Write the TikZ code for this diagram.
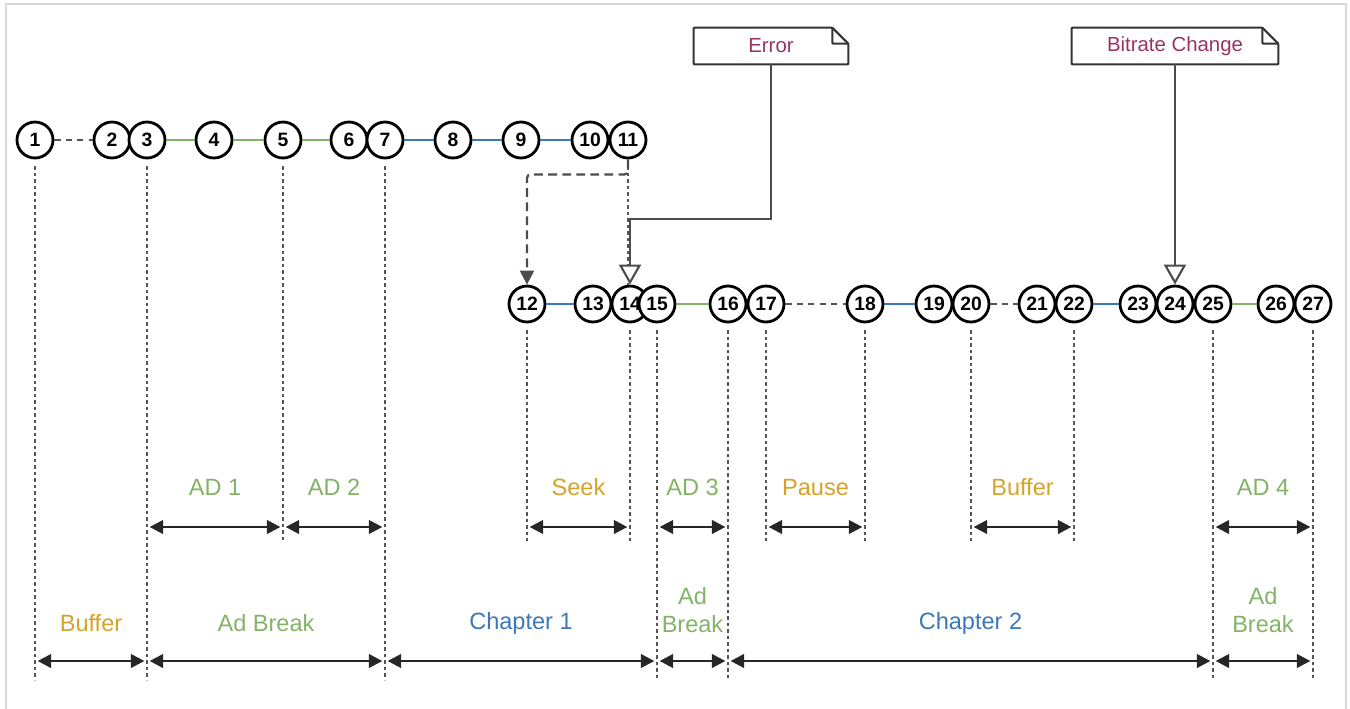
\documentclass[tikz,border=0pt]{standalone}
\usepackage{fontspec}
\setmainfont{Liberation Sans}
\usetikzlibrary{arrows.meta}
\definecolor{adgreen}{HTML}{82B366}
\definecolor{chapblue}{HTML}{3C78B8}
\definecolor{waitgold}{HTML}{D6A329}
\definecolor{notepurple}{HTML}{993366}
\definecolor{guidegrey}{HTML}{555555}
\tikzset{
	evt/.style={circle, draw=black, line width=1.6pt, fill=white, minimum size=0.72cm, inner sep=0pt, font=\fontsize{11}{12}\selectfont\bfseries},
	greenlink/.style={draw=adgreen, line width=1.6pt},
	bluelink/.style={draw=chapblue, line width=1.6pt},
	gaplink/.style={draw=guidegrey, line width=1.4pt, dash pattern=on 3.5pt off 3pt},
	guide/.style={draw=guidegrey, line width=1.4pt, dash pattern=on 1.8pt off 1.9pt, shorten <=4pt},
	span/.style={{Triangle[length=0.27cm,width=0.27cm]}-{Triangle[length=0.27cm,width=0.27cm]}, draw=black!85, line width=1.4pt, shorten <=1.5pt, shorten >=1.5pt},
	spanlbl/.style={font=\fontsize{13.4}{16.4}\selectfont, align=center, inner sep=0pt},
	note/.style={minimum height=0.72cm, inner sep=0pt, text=notepurple, font=\fontsize{11.6}{13}\selectfont},
	noteframe/.style={draw=black!80, line width=1.2pt, rounded corners=0.5pt},
	notewire/.style={draw=black!70, line width=1.2pt, -{Triangle[fill=white,length=0.4cm,width=0.44cm]}},
	seekwire/.style={draw=black!70, line width=1.3pt, dash pattern=on 5pt off 3pt, rounded corners=2pt, -{Triangle[length=0.28cm,width=0.28cm]}}
}

\begin{document}
\begin{tikzpicture}[x=0.02cm, y=-0.02cm]
	%%%%% START %%%%%
	\useasboundingbox (0,0) rectangle (1350,708);
	\draw[draw=black!15, line width=1.6pt] (6,712) -- (6,4) -- (1346,4) -- (1346,712);
	
	% first row
	\node[evt] (n1) at (35,140) {1};
	\node[evt] (n2) at (112,140) {2};
	\node[evt] (n3) at (147,140) {3};
	\node[evt] (n4) at (214,140) {4};
	\node[evt] (n5) at (283,140) {5};
	\node[evt] (n6) at (349,140) {6};
	\node[evt] (n7) at (385,140) {7};
	\node[evt] (n8) at (453,140) {8};
	\node[evt] (n9) at (521,140) {9};
	\node[evt] (n10) at (590,140) {10};
	\node[evt] (n11) at (628,140) {11};
	
	\draw[gaplink] (n1) -- (n2);
	\draw[greenlink] (n3) -- (n4);
	\draw[greenlink] (n4) -- (n5);
	\draw[greenlink] (n5) -- (n6);
	\draw[bluelink] (n7) -- (n8);
	\draw[bluelink] (n8) -- (n9);
	\draw[bluelink] (n9) -- (n10);
	
	% second row
	\node[evt] (n12) at (527,304) {12};
	\node[evt] (n13) at (593,304) {13};
	\node[evt] (n14) at (630,304) {14};
	\node[evt] (n15) at (657,304) {15};
	\node[evt] (n16) at (728,304) {16};
	\node[evt] (n17) at (766,304) {17};
	\node[evt] (n18) at (865,304) {18};
	\node[evt] (n19) at (934,304) {19};
	\node[evt] (n20) at (971,304) {20};
	\node[evt] (n21) at (1037,304) {21};
	\node[evt] (n22) at (1074,304) {22};
	\node[evt] (n23) at (1138,304) {23};
	\node[evt] (n24) at (1175,304) {24};
	\node[evt] (n25) at (1213,304) {25};
	\node[evt] (n26) at (1276,304) {26};
	\node[evt] (n27) at (1313,304) {27};
	
	\draw[bluelink] (n12) -- (n13);
	\draw[greenlink] (n15) -- (n16);
	\draw[gaplink] (n17) -- (n18);
	\draw[bluelink] (n18) -- (n19);
	\draw[gaplink] (n20) -- (n21);
	\draw[bluelink] (n22) -- (n23);
	\draw[greenlink] (n25) -- (n26);
	
	% dotted guides
	\draw[guide] (n1.south) -- (n1 |- 0,680);
	\draw[guide] (n3.south) -- (n3 |- 0,680);
	\draw[guide] (n5.south) -- (n5 |- 0,541);
	\draw[guide] (n7.south) -- (n7 |- 0,680);
	\draw[guide] (n11.south) -- (n11 |- n14.north);
	\draw[guide] (n12.south) -- (n12 |- 0,541);
	\draw[guide] (n14.south) -- (n14 |- 0,541);
	\draw[guide] (n15.south) -- (n15 |- 0,680);
	\draw[guide] (n16.south) -- (n16 |- 0,680);
	\draw[guide] (n17.south) -- (n17 |- 0,541);
	\draw[guide] (n18.south) -- (n18 |- 0,541);
	\draw[guide] (n20.south) -- (n20 |- 0,541);
	\draw[guide] (n22.south) -- (n22 |- 0,541);
	\draw[guide] (n25.south) -- (n25 |- 0,680);
	\draw[guide] (n27.south) -- (n27 |- 0,680);
	
	% seek jump
	\draw[seekwire] (n11.south) -- ++(0,15) -| (n12.north);
	
	% notes
	\node[note, minimum width=3.08cm] (err) at (771,46) {Error};
	\draw[noteframe] (err.north west) -- ([xshift=-0.32cm]err.north east) -- ([yshift=-0.32cm]err.north east) -- (err.south east) -- (err.south west) -- cycle;
	\draw[noteframe] ([xshift=-0.32cm]err.north east) |- ([yshift=-0.32cm]err.north east);
	\coordinate (errbend) at (n14 |- 0,219);
	\draw[notewire] (err.south) |- (errbend) -- (n14.north);
	
	\node[note, minimum width=4.12cm] (rate) at (1175,46) {Bitrate Change};
	\draw[noteframe] (rate.north west) -- ([xshift=-0.32cm]rate.north east) -- ([yshift=-0.32cm]rate.north east) -- (rate.south east) -- (rate.south west) -- cycle;
	\draw[noteframe] ([xshift=-0.32cm]rate.north east) |- ([yshift=-0.32cm]rate.north east);
	\draw[notewire] (rate.south) -- (n24.north);
	
	% short spans
	\draw[span] (n3 |- 0,527) -- node[spanlbl, text=adgreen, yshift=0.8cm] (lad1) {AD 1} (n5 |- 0,527);
	\draw[span] (n5 |- 0,527) -- node[spanlbl, text=adgreen, yshift=0.8cm] (lad2) {AD 2} (n7 |- 0,527);
	\draw[span] (n12 |- 0,527) -- node[spanlbl, text=waitgold, yshift=0.8cm] (lseek) {Seek} (n14 |- 0,527);
	\draw[span] (n15 |- 0,527) -- node[spanlbl, text=adgreen, yshift=0.8cm] (lad3) {AD 3} (n16 |- 0,527);
	\draw[span] (n17 |- 0,527) -- node[spanlbl, text=waitgold, yshift=0.8cm] (lpause) {Pause} (n18 |- 0,527);
	\draw[span] (n20 |- 0,527) -- node[spanlbl, text=waitgold, yshift=0.8cm] (lbuf2) {Buffer} (n22 |- 0,527);
	\draw[span] (n25 |- 0,527) -- node[spanlbl, text=adgreen, yshift=0.8cm] (lad4) {AD 4} (n27 |- 0,527);
	
	% long spans
	\draw[span] (n1 |- 0,661) -- node[spanlbl, text=waitgold, yshift=0.76cm] (lbuf1) {Buffer} (n3 |- 0,661);
	\draw[span] (n3 |- 0,661) -- node[spanlbl, text=adgreen, yshift=0.76cm] (lbrk1) {Ad Break} (n7 |- 0,661);
	\draw[span] (n7 |- 0,661) -- node[spanlbl, text=chapblue, yshift=0.76cm] (lch1) {Chapter 1} (n15 |- 0,661);
	\draw[span] (n15 |- 0,661) -- node[spanlbl, text=adgreen, yshift=1.02cm] (lbrk2) {Ad\\Break} (n16 |- 0,661);
	\draw[span] (n16 |- 0,661) -- node[spanlbl, text=chapblue, yshift=0.76cm] (lch2) {Chapter 2} (n25 |- 0,661);
	\draw[span] (n25 |- 0,661) -- node[spanlbl, text=adgreen, yshift=1.02cm] (lbrk3) {Ad\\Break} (n27 |- 0,661);
	%%%%% END %%%%%
\end{tikzpicture}
\end{document}
